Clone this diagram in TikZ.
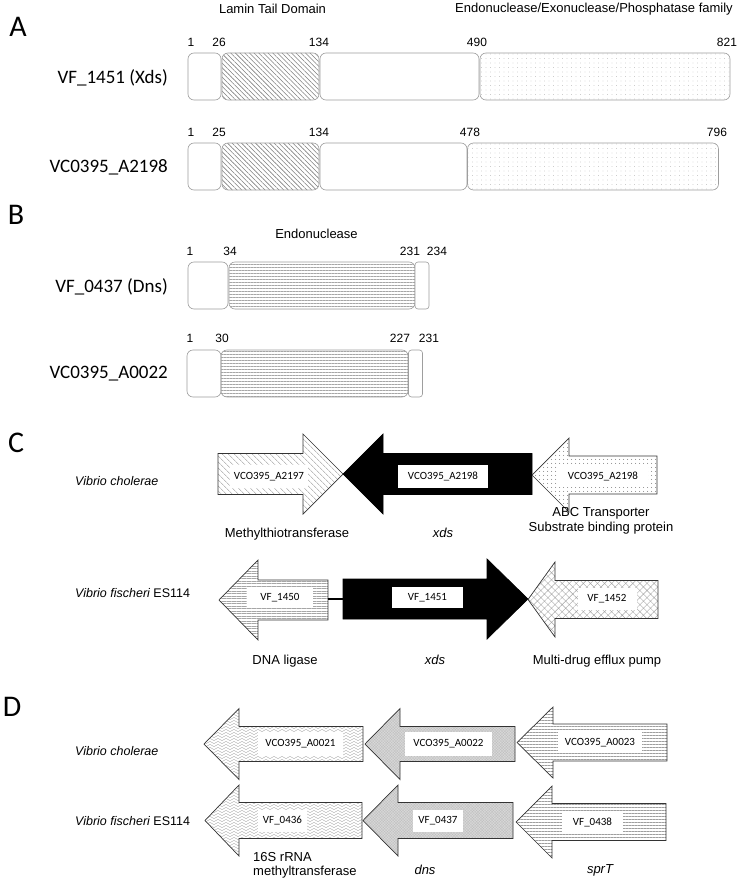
\documentclass[tikz,border=0pt]{standalone}
\usepackage{fontspec}
\setmainfont{Liberation Sans}
\newfontfamily\calib{Carlito}
\usetikzlibrary{patterns,patterns.meta}

\pgfdeclarepatternformonly{mywaves}{\pgfpoint{-1pt}{-1pt}}{\pgfpoint{9pt}{4pt}}{\pgfpoint{8pt}{3pt}}{%
  \pgfsetlinewidth{0.35pt}%
  \pgfpathmoveto{\pgfpoint{0pt}{1.5pt}}%
  \pgfpathcurveto{\pgfpoint{1.3pt}{3pt}}{\pgfpoint{2.7pt}{3pt}}{\pgfpoint{4pt}{1.5pt}}%
  \pgfpathcurveto{\pgfpoint{5.3pt}{0pt}}{\pgfpoint{6.7pt}{0pt}}{\pgfpoint{8pt}{1.5pt}}%
  \pgfusepath{stroke}%
}

% left-pointing gene arrow: style, tip x, head base x, right x, y centre, head half height, body half height
\newcommand\geneL[7]{\path[#1] (#2,#5) -- (#3,#5-#6) -- (#3,#5-#7) -- (#4,#5-#7) -- (#4,#5+#7) -- (#3,#5+#7) -- (#3,#5+#6) -- cycle;}
% right-pointing gene arrow: style, left x, head base x, tip x, y centre, head half height, body half height
\newcommand\geneR[7]{\path[#1] (#2,#5-#7) -- (#3,#5-#7) -- (#3,#5-#6) -- (#4,#5) -- (#3,#5+#6) -- (#3,#5+#7) -- (#2,#5+#7) -- cycle;}

\tikzset{
  dombox/.style={draw=black!38, line width=0.6pt, rounded corners=6pt, fill=white, inner sep=0pt, minimum height=47pt},
  diaghatch/.style={pattern={Lines[angle=-45,distance=3.3pt,line width=0.55pt]}, pattern color=black!50},
  hlines/.style={pattern={Lines[angle=0,distance=3pt,line width=0.45pt]}, pattern color=black!35},
  sparsedots/.style={pattern={Dots[distance=4.5pt,radius=0.35pt]}, pattern color=black!30},
  num/.style={font=\fontsize{12}{14}\selectfont, inner sep=0pt, anchor=base},
  domlab/.style={font=\fontsize{13}{15}\selectfont, inner sep=0pt, anchor=base},
  prot/.style={font=\calib\fontsize{19}{22}\selectfont, inner sep=0pt, anchor=base east},
  panel/.style={font=\calib\fontsize{30}{32}\selectfont, inner sep=0pt},
  species/.style={font=\fontsize{12.5}{15}\selectfont, inner sep=0pt, anchor=base west},
  genelab/.style={font=\fontsize{13}{14.5}\selectfont, inner sep=0pt, anchor=base, align=center},
  tag/.style={fill=white, font=\calib\fontsize{11}{13}\selectfont, inner sep=0pt},
  garrow/.style={draw=black!80, line width=0.7pt, fill=white},
  ghatch/.style={garrow, pattern={Lines[angle=-45,distance=4pt,line width=0.5pt]}, pattern color=black!40},
  gblack/.style={draw=black, line width=0.7pt, fill=black},
  gdots/.style={garrow, pattern={Dots[distance=4pt,radius=0.5pt]}, pattern color=black!70},
  ghlines/.style={garrow, pattern={Lines[angle=0,distance=2.5pt,line width=0.45pt]}, pattern color=black!35},
  gcross/.style={garrow, pattern={Hatch[angle=45,distance=5pt,line width=0.4pt]}, pattern color=black!35},
  gwaves/.style={garrow, pattern=mywaves, pattern color=black!35},
  ggrey/.style={garrow, preaction={fill=black!15}, pattern={Hatch[angle=45,distance=2pt,line width=0.3pt]}, pattern color=black!25},
  gstripes/.style={garrow, pattern={Lines[angle=0,distance=3pt,line width=0.5pt]}, pattern color=black!38},
}

\begin{document}
\begin{tikzpicture}[x=1pt,y=-1pt]
\useasboundingbox[fill=white] (0,0) rectangle (737,891);

% ---------------- Panel A ----------------
\node[panel] (pA) at (18,27) {A};
\node[domlab] (ltd) at (272.5,14) {Lamin Tail Domain};
\node[domlab] (eep) at (594,13) {Endonuclease/Exonuclease/Phosphatase family};

\node[prot] (xdsname) at (168,83) {VF\_1451 (Xds)};
\node[dombox, minimum width=33pt] (a1) at (204.5,76.5) {};
\node[dombox, minimum width=97pt, diaghatch] (a2) at (270.5,76.5) {};
\node[dombox, minimum width=159pt] (a3) at (399.5,76.5) {};
\node[dombox, minimum width=250pt, sparsedots] (a4) at (605,76.5) {};
\node[num] (n1) at (191,47) {1};
\node[num] (n2) at (219,47) {26};
\node[num] (n3) at (319,47) {134};
\node[num] (n4) at (477,47) {490};
\node[num] (n5) at (727,47) {821};

\node[prot] (vcaname) at (168,172) {VC0395\_A2198};
\node[dombox, minimum width=33pt] (b1) at (204.5,166.5) {};
\node[dombox, minimum width=97pt, diaghatch] (b2) at (270.5,166.5) {};
\node[dombox, minimum width=147pt] (b3) at (393.5,166.5) {};
\node[dombox, minimum width=251pt, sparsedots] (b4) at (593,166.5) {};
\node[num] (m1) at (191,136) {1};
\node[num] (m2) at (219,136) {25};
\node[num] (m3) at (319,136) {134};
\node[num] (m4) at (470,136) {478};
\node[num] (m5) at (717,136) {796};

% ---------------- Panel B ----------------
\node[panel] (pB) at (16,215) {B};
\node[domlab] (endo) at (316.5,238) {Endonuclease};

\node[prot] (dnsname) at (168,292) {VF\_0437 (Dns)};
\node[dombox, minimum width=40pt] (c1) at (208,285.5) {};
\node[dombox, minimum width=186pt, hlines] (c2) at (322,285.5) {};
\node[dombox, minimum width=14pt, rounded corners=3pt] (c3) at (422,285.5) {};
\node[num] (k1) at (190,255) {1};
\node[num] (k2) at (230,255) {34};
\node[num] (k3) at (410,255) {231};
\node[num] (k4) at (437,255) {234};

\node[prot] (vcdname) at (168,378) {VC0395\_A0022};
\node[dombox, minimum width=34pt] (d1) at (204,373.5) {};
\node[dombox, minimum width=187pt, hlines] (d2) at (314.5,373.5) {};
\node[dombox, minimum width=14pt, rounded corners=3pt] (d3) at (415.5,373.5) {};
\node[num] (j1) at (190,342) {1};
\node[num] (j2) at (222,342) {30};
\node[num] (j3) at (400,342) {227};
\node[num] (j4) at (429,342) {231};

% ---------------- Panel C ----------------
\node[panel] (pC) at (16,443) {C};
\node[species] (vc1) at (75,485) {\itshape Vibrio cholerae};
\node[species] (vf1) at (75,597) {\itshape Vibrio fischeri\upshape{} ES114};

\geneR{ghatch}{218}{303}{343}{474}{40}{20.5}
\geneL{gblack}{343}{383}{532}{474}{40}{20.5}
\geneL{gdots}{532}{569}{657}{475}{37}{19}
\node[tag, minimum width=78pt, minimum height=23pt] (t2197) at (269,476.5) {VCO395\_A2197};
\node[tag, minimum width=90pt, minimum height=23pt] (t2198) at (443,476.5) {VCO395\_A2198};
\node[tag, minimum width=90pt, minimum height=22pt] (t2198b) at (603,476) {VCO395\_A2198};
\node[genelab] (g1) at (287,537) {Methylthiotransferase};
\node[genelab] (g2) at (443,537) {\itshape xds};
\node[genelab] (g3) at (601,531) {ABC Transporter\\Substrate binding protein};

\geneL{ghlines}{219}{258}{328}{600}{40}{20}
\geneR{gblack}{343}{487}{528}{599}{40}{20}
\geneL{gcross}{528}{555}{658}{599.5}{37.5}{19}
\coordinate (vf1450r) at (328,599);
\coordinate (vf1451l) at (343,599);
\draw[line width=1.6pt] (vf1450r) -- (vf1451l);
\node[tag, minimum width=66pt, minimum height=21pt] (t1450) at (280,597.5) {VF\_1450};
\node[tag, minimum width=71pt, minimum height=21pt] (t1451) at (427.5,597.5) {VF\_1451};
\node[tag, minimum width=59pt, minimum height=22pt] (t1452) at (607,599) {VF\_1452};
\node[genelab] (h1) at (285,664) {DNA ligase};
\node[genelab] (h2) at (435,664) {\itshape xds};
\node[genelab] (h3) at (597,664) {Multi-drug efflux pump};

% ---------------- Panel D ----------------
\node[panel] (pD) at (12,707) {D};
\node[species] (vc2) at (75,755) {\itshape Vibrio cholerae};
\node[species] (vf2) at (75,825) {\itshape Vibrio fischeri\upshape{} ES114};

\geneL{gwaves}{204}{239}{363}{744}{35.5}{17.5}
\geneL{ggrey}{365}{400}{515}{744}{35.5}{17.5}
\geneL{gstripes}{517}{553}{667}{742.5}{35.5}{18.5}
\node[tag, minimum width=85pt, minimum height=24pt] (t0021) at (300.5,744) {VCO395\_A0021};
\node[tag, minimum width=87pt, minimum height=24pt] (t0022) at (448.5,744) {VCO395\_A0022};
\node[tag, minimum width=84pt, minimum height=21pt] (t0023) at (600,742.5) {VCO395\_A0023};

\geneL{gwaves}{205}{239}{362}{820.5}{35.5}{18}
\geneL{ggrey}{363}{398}{513}{820.5}{35.5}{18}
\geneL{gstripes}{516}{552}{666}{822}{36}{18.5}
\node[tag, minimum width=49pt, minimum height=22pt] (t0436) at (282.5,821) {VF\_0436};
\node[tag, minimum width=50pt, minimum height=22pt] (t0437) at (438,821) {VF\_0437};
\node[tag, minimum width=61pt, minimum height=19pt] (t0438) at (592.5,822.5) {VF\_0438};
\node[genelab, anchor=base west, align=left, font=\fontsize{13}{13.5}\selectfont] (i1) at (253,875) {16S rRNA\\methyltransferase};
\node[genelab] (i2) at (425,874) {\itshape dns};
\node[genelab] (i3) at (600,873) {\itshape sprT};
\end{tikzpicture}
\end{document}
